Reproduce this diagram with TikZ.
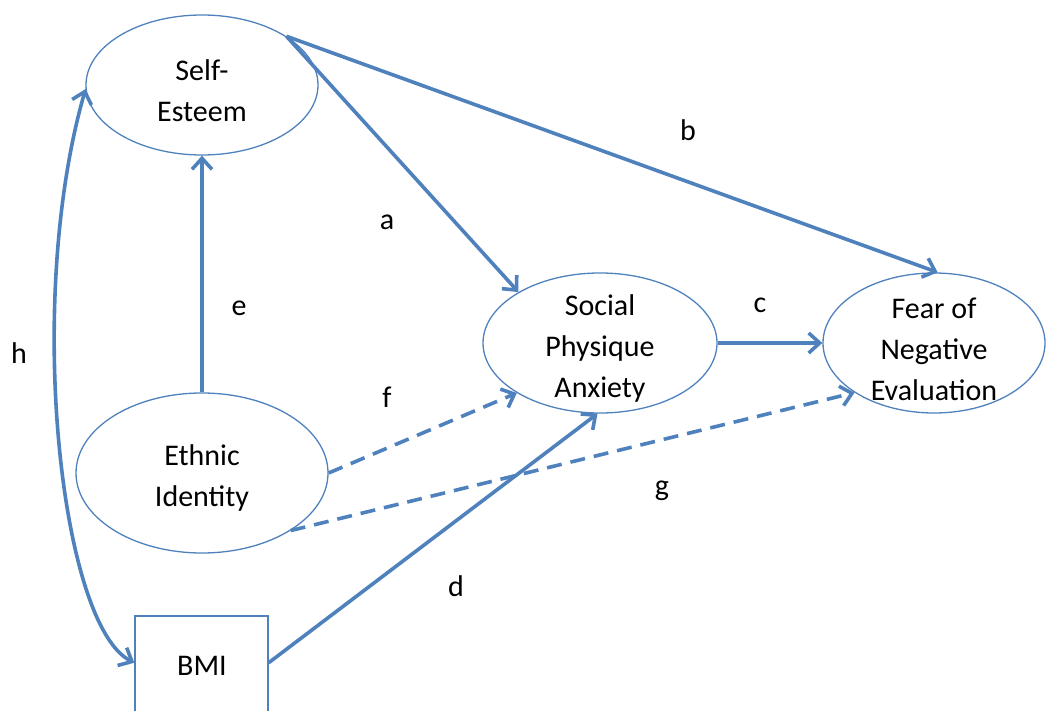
\documentclass[tikz,border=0pt]{standalone}
\usepackage{fontspec}
\setmainfont{Carlito}
\usetikzlibrary{shapes.geometric,arrows.meta}
\definecolor{lineblue}{RGB}{79,129,189}
\begin{document}
\begin{tikzpicture}[x=1pt,y=-1pt,
  >={Straight Barb[length=11pt,width=20pt]},
  every node/.style={font=\fontsize{30}{41}\selectfont, text=black},
  var/.style={ellipse, draw=lineblue, line width=1.3pt, inner sep=0pt},
  box/.style={rectangle, draw=lineblue, line width=1.3pt, inner sep=0pt},
  txt/.style={align=center, inner sep=0pt},
  link/.style={draw=lineblue, line width=3.6pt, ->},
  dlink/.style={link, dash pattern=on 15pt off 9pt},
  lbl/.style={inner sep=0pt}
]
\useasboundingbox (0,0) rectangle (1047,711);
\node[var, minimum width=232pt, minimum height=140pt] (se) at (202,85) {};
\node[txt] (set) at (202,91) {Self-\\Esteem};
\node[var, minimum width=234pt, minimum height=140pt] (spa) at (600,343) {};
\node[txt] (spat) at (600,349) {Social\\Physique\\Anxiety};
\node[var, minimum width=222pt, minimum height=140pt] (fne) at (934,343) {};
\node[txt] (fnet) at (934,349) {Fear of\\Negative\\Evaluation};
\node[var, minimum width=252pt, minimum height=160pt] (eth) at (202,473) {};
\node[txt] (etht) at (202,478) {Ethnic\\Identity};
\node[box, minimum width=133pt, minimum height=110pt] (bmi) at (201.5,671) {};
\node[txt] (bmit) at (202,666) {BMI};

\draw[link] (se.30) -- (spa.148);
\draw[link] (se.30) -- (fne.87);
\draw[link] (spa.east) -- (fne.west);
\draw[link] (eth.north) -- (se.south);
\draw[dlink] (eth.east) -- (spa.211);
\draw[dlink] (eth.327) -- (fne.212);
\draw[link] (bmi.7) -- (spa.268);
\draw[link, <->] (se.182) .. controls (25,300) and (60,625) .. (bmi.173);

\node[lbl] (la) at (387,222) {a};
\node[lbl] (lb) at (688,130) {b};
\node[lbl] (lc) at (760,305) {c};
\node[lbl] (ld) at (456,586) {d};
\node[lbl] (le) at (239,308) {e};
\node[lbl] (lf) at (387,397) {f};
\node[lbl] (lg) at (662,491) {g};
\node[lbl] (lh) at (19,353) {h};
\end{tikzpicture}
\end{document}
